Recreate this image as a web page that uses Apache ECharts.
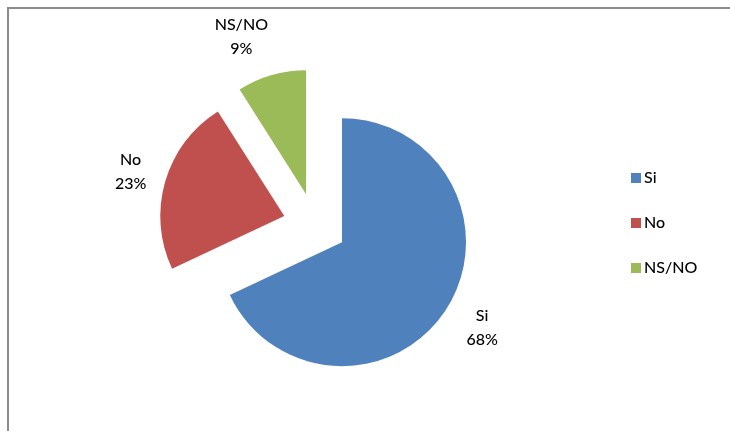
<!DOCTYPE html>
<html>
<head>
<meta charset="utf-8">
<script src="https://cdn.jsdelivr.net/npm/echarts@6/dist/echarts.min.js"></script>
<style>
  html, body { margin: 0; padding: 0; background: #fff; }
  #chart { width: 730px; height: 431px; }
</style>
</head>
<body>
<div id="chart"></div>
<script>
// Survey answers and their share of responses (%)
const categories = ['Si', 'No', 'NS/NO'];
const values = [68, 23, 9];
const colors = ['#4F81BD', '#C0504D', '#9BBB59'];
// per-slice label spacing away from the slice edge
const labelGap = [5, 0, 19];
const labelLen = [36, 36, 40];

const FONT = 'Lato, "Open Sans", sans-serif';

const chart = echarts.init(document.getElementById('chart'), null, { renderer: 'canvas' });

const data = categories.map((name, i) => ({
  name: name,
  value: values[i],
  selected: true,
  itemStyle: { color: colors[i] },
  label: { distanceToLabelLine: labelGap[i] },
  labelLine: { length: labelLen[i], length2: 0 }
}));

chart.setOption({
  animation: false,
  backgroundColor: '#ffffff',
  graphic: [{
    type: 'rect',
    shape: { x: 8, y: 8, width: 900, height: 600 },
    style: { fill: 'none', stroke: '#8c8c8c', lineWidth: 2 },
    silent: true
  }],
  legend: {
    orient: 'vertical',
    left: 626,
    top: 165,
    itemWidth: 10,
    itemHeight: 10,
    itemGap: 29,
    icon: 'rect',
    selectedMode: false,
    textStyle: { fontFamily: FONT, fontSize: 16, fontWeight: 500, color: '#000', padding: [0, 0, 0, -2] },
    data: categories
  },
  series: [{
    type: 'pie',
    center: [315, 225],
    radius: [0, 124],
    startAngle: 90,
    clockwise: true,
    selectedMode: 'multiple',
    selectedOffset: 32,
    avoidLabelOverlap: false,
    emphasis: { disabled: true },
    select: { itemStyle: { borderWidth: 0 }, label: { show: true } },
    label: {
      show: true,
      position: 'outside',
      formatter: '{b}\n{d}%',
      fontFamily: FONT,
      fontSize: 16,
      fontWeight: 500,
      lineHeight: 24,
      color: '#000'
    },
    labelLine: { show: false },
    labelLayout: function () { return { align: 'center', verticalAlign: 'middle' }; },
    data: data
  }]
});
</script>
</body>
</html>
